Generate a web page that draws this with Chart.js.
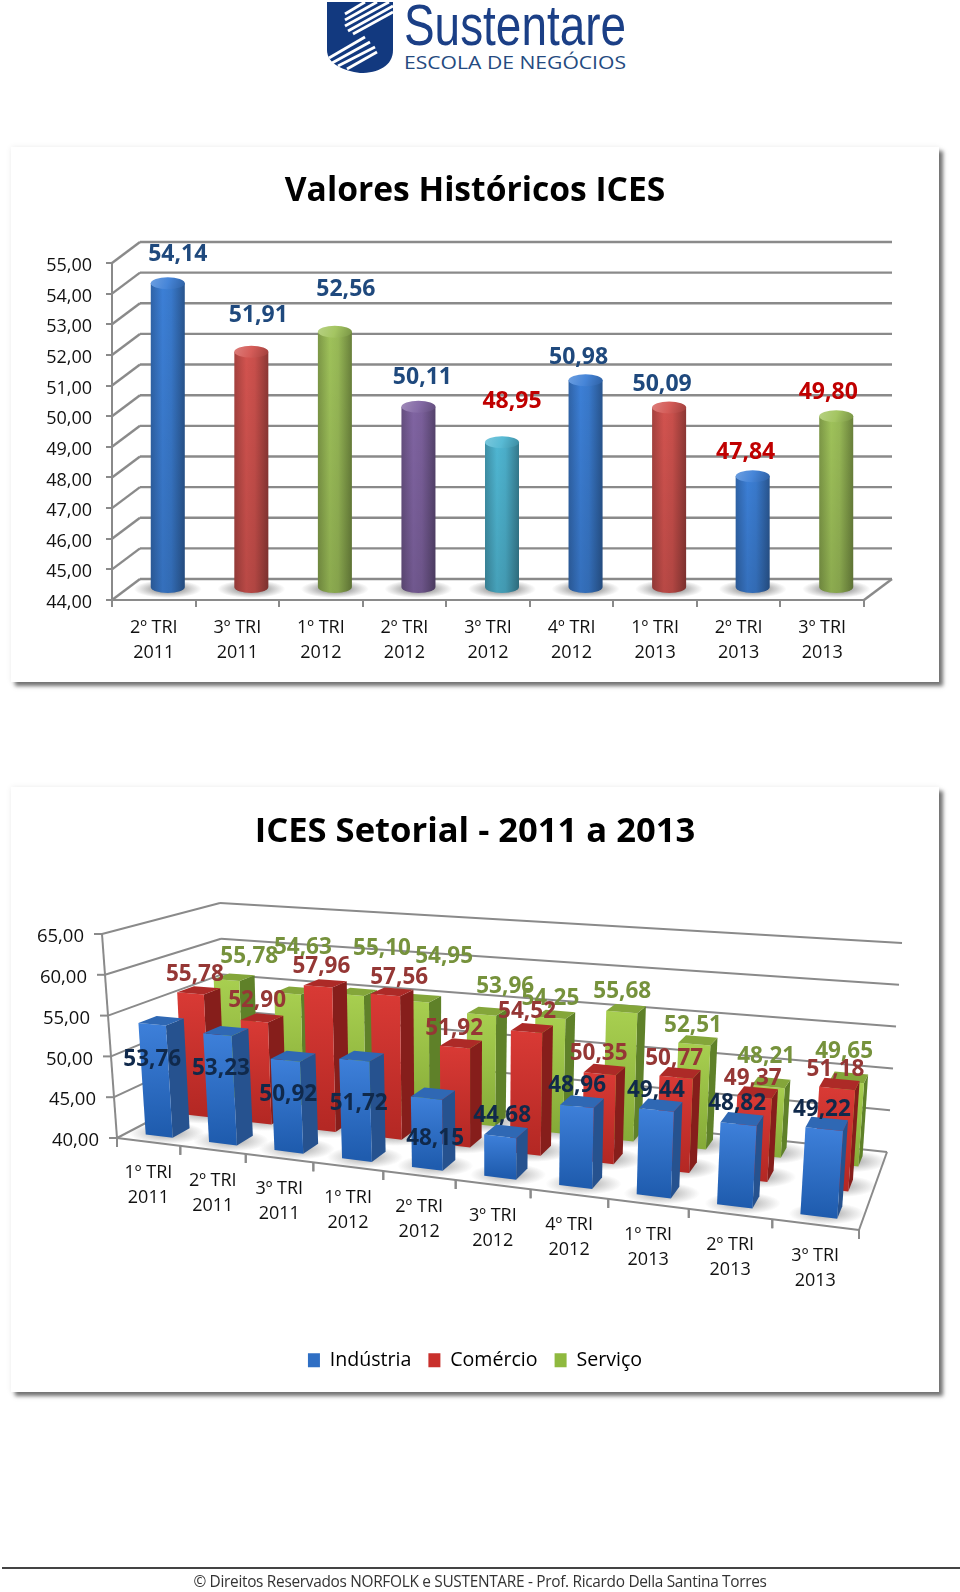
<!DOCTYPE html>
<html lang="pt">
<head>
<meta charset="utf-8">
<title>ICES</title>
<script src="https://cdn.jsdelivr.net/npm/chart.js@4/dist/chart.umd.min.js"></script>
<style>
  html, body { margin: 0; background: #fff; }
  body { position: relative; width: 960px; height: 1592px; overflow: hidden; font-family: "Open Sans", sans-serif; }
  .card { position: absolute; left: 11px; width: 928px; background: #fff; box-shadow: 4px 4px 4px rgba(0,0,0,.55), 0 0 6px rgba(0,0,0,.07); }
  canvas { position: absolute; left: 0; top: 0; }
  #logo { position: absolute; left: 320px; top: 0; }
  #rule { position: absolute; left: 2px; right: 0; top: 1567px; height: 2px; background: #444; }
  #footer { position: absolute; left: 0; width: 960px; top: 1571px; text-align: center; font-size: 15.4px; line-height: 21px; color: #333; letter-spacing: -0.3px; }
</style>
</head>
<body>
<svg id="logo" width="320" height="80" viewBox="0 0 320 80">
  <path d="M7 2 H73 V50 C73 66 58 73 40 73 C24 71 7 64 7 50 Z" fill="#12397f"/>
  <g stroke="#fff" stroke-width="2.8" fill="none">
    <path d="M25 14 L45 2"/><path d="M25 20 L57 2"/><path d="M25 26 L69 2"/>
    <path d="M28 31 L73 6"/><path d="M33 34 L73 12"/>
    <path d="M9 58 L45 37"/><path d="M12 63 L50 42"/><path d="M18 66 L55 47"/><path d="M27 69 L57 52"/>
  </g>
  <text x="84" y="45" font-family="Liberation Sans" font-size="58" fill="#1b3f86" textLength="222" lengthAdjust="spacingAndGlyphs">Sustentare</text>
  <text x="84" y="69" font-family="Open Sans" font-size="18.5" fill="#244a80" textLength="222" lengthAdjust="spacingAndGlyphs">ESCOLA DE NEGÓCIOS</text>
</svg>
<div class="card" style="top:147px;height:535px"></div>
<div class="card" style="top:787px;height:605px"></div>
<canvas id="historico" width="950" height="1592"></canvas>
<canvas id="setorial" width="950" height="1592"></canvas>
<div id="rule"></div>
<div id="footer">© Direitos Reservados NORFOLK e SUSTENTARE - Prof. Ricardo Della Santina Torres</div>

<script>
// dados do primeiro grafico
const categoriasHist = [['2º TRI', '2011'], ['3º TRI', '2011'], ['1º TRI', '2012'], ['2º TRI', '2012'], ['3º TRI', '2012'], ['4º TRI', '2012'], ['1º TRI', '2013'], ['2º TRI', '2013'], ['3º TRI', '2013']];
const valoresHist = [54.14, 51.91, 52.56, 50.11, 48.95, 50.98, 50.09, 47.84, 49.80];

// dados do segundo grafico
const categoriasSet = [['1º TRI', '2011'], ['2º TRI', '2011'], ['3º TRI', '2011'], ['1º TRI', '2012'], ['2º TRI', '2012'], ['3º TRI', '2012'], ['4º TRI', '2012'], ['1º TRI', '2013'], ['2º TRI', '2013'], ['3º TRI', '2013']];
const industria = [53.76, 53.23, 50.92, 51.72, 48.15, 44.68, 48.96, 49.44, 48.82, 49.22];
const comercio = [55.78, 52.90, 57.96, 57.56, 51.92, 54.52, 50.35, 50.77, 49.37, 51.18];
const servico = [55.78, 54.63, 55.10, 54.95, 53.96, 54.25, 55.68, 52.51, 48.21, 49.65];

// estilos
const coresHist = ['#3c7fd6', '#d2534f', '#9fc25a', '#8064a2', '#4fb6d2', '#3c7fd6', '#d2534f', '#3c7fd6', '#9fc25a'];
const coresRotuloHist = ['#1f497d', '#1f497d', '#1f497d', '#1f497d', '#c00000', '#1f497d', '#1f497d', '#c00000', '#c00000'];
const desvioRotuloHist = [[10, -29], [7, -36], [11, -42], [4, -29], [10, -41], [-7, -23], [-7, -23], [-7, -24], [-8, -24]];
const GRID = '#8a8a8a';

Chart.defaults.font.family = '"Open Sans", sans-serif';
Chart.defaults.color = '#111';
Chart.defaults.animation = false;
Chart.defaults.responsive = false;

const virgula = v => Number(v).toFixed(2).replace('.', ',');

function tom(hex, f) {
  const n = parseInt(hex.slice(1), 16);
  const c = [n >> 16, (n >> 8) & 255, n & 255].map(k => Math.round(f > 1 ? k + (255 - k) * (f - 1) : k * f));
  return `rgb(${c[0]},${c[1]},${c[2]})`;
}

function sombra(ctx, cx, cy, rx, ry, cor) {
  ctx.save();
  ctx.translate(cx, cy);
  ctx.scale(rx, ry);
  const g = ctx.createRadialGradient(0, 0, 0.2, 0, 0, 1);
  g.addColorStop(0, cor);
  g.addColorStop(1, 'rgba(130,130,130,0)');
  ctx.fillStyle = g;
  ctx.beginPath();
  ctx.arc(0, 0, 1, 0, Math.PI * 2);
  ctx.fill();
  ctx.restore();
}

function linha(ctx, a, b) {
  ctx.beginPath();
  ctx.moveTo(a[0], a[1]);
  ctx.lineTo(b[0], b[1]);
  ctx.stroke();
}

// ---- grafico 1: cilindros ----
const DX = 28, DY = 21;

function cilindro(ctx, el, pisoY, cor) {
  const rx = el.width / 2, ry = 6, cx = el.x + DX / 2;
  const topo = el.y - 6, base = pisoY - 13;
  sombra(ctx, cx, base + 2, rx * 2, 9, 'rgba(110,110,110,.85)');
  const g = ctx.createLinearGradient(cx - rx, 0, cx + rx, 0);
  g.addColorStop(0, tom(cor, 0.78));
  g.addColorStop(0.35, tom(cor, 1));
  g.addColorStop(0.6, tom(cor, 0.95));
  g.addColorStop(1, tom(cor, 0.66));
  ctx.fillStyle = g;
  ctx.beginPath();
  ctx.moveTo(cx - rx, topo);
  ctx.lineTo(cx - rx, base);
  ctx.ellipse(cx, base, rx, ry, 0, Math.PI, 0, true);
  ctx.lineTo(cx + rx, topo);
  ctx.closePath();
  ctx.fill();
  const v = ctx.createLinearGradient(0, topo, 0, base + ry);
  v.addColorStop(0, 'rgba(0,0,0,0)');
  v.addColorStop(1, 'rgba(0,0,0,.12)');
  ctx.fillStyle = v;
  ctx.fill();
  const t = ctx.createLinearGradient(cx - rx, topo - ry, cx + rx, topo + ry);
  t.addColorStop(0, tom(cor, 1.25));
  t.addColorStop(0.5, tom(cor, 1.05));
  t.addColorStop(1, tom(cor, 0.75));
  ctx.fillStyle = t;
  ctx.beginPath();
  ctx.ellipse(cx, topo, rx, ry, 0, 0, Math.PI * 2);
  ctx.fill();
}

const paredesHist = {
  id: 'paredesHist',
  beforeDatasetsDraw(chart) {
    const { ctx, scales: { x, y } } = chart;
    ctx.save();
    ctx.strokeStyle = GRID;
    ctx.lineWidth = 2.4;
    y.ticks.forEach(t => {
      const py = y.getPixelForValue(t.value);
      linha(ctx, [x.left, py], [x.left + DX, py - DY]);
      linha(ctx, [x.left + DX, py - DY], [x.right + DX, py - DY]);
    });
    linha(ctx, [x.right, y.bottom], [x.right + DX, y.bottom - DY]);
    ctx.restore();
  },
  afterDatasetsDraw(chart) {
    const { ctx, scales: { y } } = chart;
    const meta = chart.getDatasetMeta(0);
    ctx.save();
    meta.data.forEach((el, i) => cilindro(ctx, el, y.bottom, coresHist[i]));
    ctx.font = 'bold 23px "Open Sans"';
    ctx.textAlign = 'center';
    ctx.textBaseline = 'middle';
    meta.data.forEach((el, i) => {
      ctx.fillStyle = coresRotuloHist[i];
      ctx.fillText(virgula(valoresHist[i]), el.x + DX / 2 + desvioRotuloHist[i][0], el.y - 6 + desvioRotuloHist[i][1]);
    });
    ctx.restore();
  }
};

new Chart(document.getElementById('historico'), {
  type: 'bar',
  data: {
    labels: categoriasHist,
    datasets: [{ label: 'ICES', data: valoresHist, backgroundColor: 'rgba(0,0,0,0)', barPercentage: 0.407, categoryPercentage: 1 }]
  },
  options: {
    layout: { padding: { bottom: 932 } },
    plugins: {
      legend: { display: false },
      tooltip: { enabled: false },
      title: { display: true, text: 'Valores Históricos ICES', color: '#000', font: { size: 33.6, weight: 'bold' }, padding: { top: 171, bottom: 51.7 } }
    },
    scales: {
      y: {
        min: 44, max: 55,
        afterFit(s) { s.width = 112; },
        border: { color: GRID, width: 2 },
        grid: { drawOnChartArea: false, color: GRID, lineWidth: 2, tickLength: 6 },
        ticks: { stepSize: 1, padding: 14, labelOffset: 3, font: { size: 18 }, callback: virgula }
      },
      // eixo vazio, so reserva a margem direita para o titulo ficar centrado no cartao
      margem: {
        position: 'right',
        afterFit(s) { s.width = 86; },
        border: { display: false },
        grid: { display: false },
        ticks: { display: false }
      },
      x: {
        afterFit(s) { s.height = 60; },
        border: { color: GRID, width: 2 },
        grid: { drawOnChartArea: false, color: GRID, lineWidth: 2, tickLength: 7 },
        ticks: { padding: 9, maxRotation: 0, font: { size: 18, lineHeight: 1.36 } }
      }
    }
  },
  plugins: [paredesHist]
});

// ---- grafico 2: colunas em perspectiva ----
const coresSet = {
  frenteA: ['#3e80da', '#d93a35', '#a8cf50'],
  frenteB: ['#1f5cae', '#b42824', '#86ab38'],
  lado: ['#26528f', '#861e1b', '#5f8129'],
  topo: ['#2f68b4', '#ad2a27', '#84a63a'],
  rotulo: ['#10294b', '#953735', '#76923c'],
  legenda: ['#2f6fc4', '#c9302c', '#8fb93f']
};
const desvioRotuloSet = [
  [[-9, 39], [-5, 38], [-5, 38], [-3, 48], [2, 45], [-4, -16], [-5, -16], [-5, -15], [-5, -15], [-5, -14]],
  [[-4, -16], [-5, -17], [-4, -17], [7, -14], [-7, -15], [-5, -16], [-6, -16], [-6, -14], [-5, -14], [-4, -14]],
  [[15, -21], [8, -43], [25, -43], [23, -42], [18, -25], [-5, -16], [-4, -17], [-5, -15], [-5, -26], [-5, -26]]
];

// homografia do quadrado unitario para um quadrilatero
function homografia(p0, p1, p2, p3) {
  const dx1 = p1[0] - p2[0], dx2 = p3[0] - p2[0], sx = p0[0] - p1[0] + p2[0] - p3[0];
  const dy1 = p1[1] - p2[1], dy2 = p3[1] - p2[1], sy = p0[1] - p1[1] + p2[1] - p3[1];
  const den = dx1 * dy2 - dx2 * dy1;
  const g = (sx * dy2 - dx2 * sy) / den, h = (dx1 * sy - sx * dy1) / den;
  const a = p1[0] - p0[0] + g * p1[0], b = p3[0] - p0[0] + h * p3[0];
  const d = p1[1] - p0[1] + g * p1[1], e = p3[1] - p0[1] + h * p3[1];
  return (u, v) => {
    const q = g * u + h * v + 1;
    return [(a * u + b * v + p0[0]) / q, (d * u + e * v + p0[1]) / q];
  };
}
const piso = homografia([117, 1138], [859, 1230], [887, 1152], [225, 1081.5]);
const teto = homografia([102, 934], [876, 987], [902, 943], [220, 903]);
function P(u, v, w) {
  const a = piso(u, v), b = teto(u, v);
  return [a[0] + (b[0] - a[0]) * w, a[1] + (b[1] - a[1]) * w];
}

const PROF = 0.15; // profundidade de cada coluna

function face(ctx, pts, fill) {
  ctx.fillStyle = fill;
  ctx.beginPath();
  pts.forEach((p, i) => i ? ctx.lineTo(p[0], p[1]) : ctx.moveTo(p[0], p[1]));
  ctx.closePath();
  ctx.fill();
}

const cena = {
  id: 'cena',
  afterDatasetsDraw(chart) {
    const { ctx, scales: { x, y } } = chart;
    const fu = px => (px - x.left) / x.width;
    const fw = py => (y.bottom - py) / y.height;
    ctx.save();

    // paredes e grade
    ctx.strokeStyle = GRID;
    ctx.lineWidth = 2;
    y.ticks.forEach(t => {
      const w = fw(y.getPixelForValue(t.value));
      linha(ctx, P(0, 0, w), P(0, 1, w));
      linha(ctx, P(0, 1, w), P(1, 1, w));
      const f = P(0, 0, w);
      linha(ctx, [f[0] - 8, f[1]], f);
    });
    linha(ctx, P(0, 0, 0), P(0, 0, 1));
    linha(ctx, P(0, 0, 0), P(1, 0, 0));
    linha(ctx, P(1, 0, 0), P(1, 1, 0));
    chart.data.labels.forEach((_, i) => {
      [i, i + 1].forEach(k => {
        const p = P(k / chart.data.labels.length, 0, 0);
        linha(ctx, p, [p[0], p[1] + 9]);
      });
    });

    // colunas de tras para a frente, direita para a esquerda
    [2, 1, 0].forEach(s => {
      const v0 = (s + 0.5) / 3 - PROF / 2, v1 = v0 + PROF;
      const els = chart.getDatasetMeta(s).data;
      els.forEach(el => {
        const b = P(fu(el.x), v0, 0);
        sombra(ctx, b[0] + 8, b[1] - 3, 38, 11, 'rgba(120,120,120,.55)');
      });
      for (let i = els.length - 1; i >= 0; i--) {
        const el = els[i];
        const u0 = fu(el.x - el.width / 2), u1 = fu(el.x + el.width / 2), w = fw(el.y);
        const sup = P(u0, v0, w), inf = P(u0, v0, 0);
        const g = ctx.createLinearGradient(sup[0], sup[1], inf[0], inf[1]);
        g.addColorStop(0, coresSet.frenteA[s]);
        g.addColorStop(1, coresSet.frenteB[s]);
        face(ctx, [P(u1, v0, 0), P(u1, v1, 0), P(u1, v1, w), P(u1, v0, w)], coresSet.lado[s]);
        face(ctx, [P(u0, v0, 0), P(u1, v0, 0), P(u1, v0, w), P(u0, v0, w)], g);
        face(ctx, [P(u0, v0, w), P(u1, v0, w), P(u1, v1, w), P(u0, v1, w)], coresSet.topo[s]);
      }
    });

    // rotulos dos eixos
    ctx.fillStyle = '#111';
    ctx.textBaseline = 'middle';
    ctx.font = '18.5px "Open Sans"';
    ctx.textAlign = 'right';
    y.ticks.forEach(t => {
      const f = P(0, 0, fw(y.getPixelForValue(t.value)));
      ctx.fillText(virgula(t.value), f[0] - 18, f[1] + 3);
    });
    ctx.font = '18px "Open Sans"';
    ctx.textAlign = 'center';
    chart.data.labels.forEach((lbl, i) => {
      const p = P(fu(x.getPixelForValue(i)), 0, 0);
      lbl.forEach((txt, k) => ctx.fillText(txt, p[0], p[1] + 31 + k * 25));
    });

    // rotulos de dados
    ctx.font = 'bold 22.5px "Open Sans"';
    [2, 1, 0].forEach(s => {
      const vc = (s + 0.5) / 3;
      ctx.fillStyle = coresSet.rotulo[s];
      chart.getDatasetMeta(s).data.forEach((el, i) => {
        const p = P(fu(el.x), vc, fw(el.y));
        const d = desvioRotuloSet[s][i];
        ctx.fillText(virgula(chart.data.datasets[s].data[i]), p[0] + d[0], p[1] + d[1]);
      });
    });
    ctx.restore();
  }
};

const serie = (label, data) => ({ label, data, backgroundColor: 'rgba(0,0,0,0)', grouped: false, barPercentage: 0.43, categoryPercentage: 1 });

new Chart(document.getElementById('setorial'), {
  type: 'bar',
  data: {
    labels: categoriasSet,
    datasets: [serie('Indústria', industria), serie('Comércio', comercio), serie('Serviço', servico)]
  },
  options: {
    layout: { padding: { bottom: 212 } },
    plugins: {
      tooltip: { enabled: false },
      title: { display: true, text: 'ICES Setorial - 2011 a 2013', color: '#000', font: { size: 34.6, weight: 'bold' }, padding: { top: 811, bottom: 20 } },
      legend: {
        position: 'bottom',
        labels: {
          boxWidth: 12, boxHeight: 14, padding: 17, font: { size: 19.6 },
          generateLabels: c => c.data.datasets.map((d, i) => ({ text: d.label, fillStyle: coresSet.legenda[i], lineWidth: 0, strokeStyle: 'rgba(0,0,0,0)', datasetIndex: i }))
        }
      }
    },
    scales: {
      y: { display: false, min: 40, max: 65, ticks: { stepSize: 5 } },
      x: { display: false }
    }
  },
  plugins: [cena]
});
</script>
</body>
</html>
